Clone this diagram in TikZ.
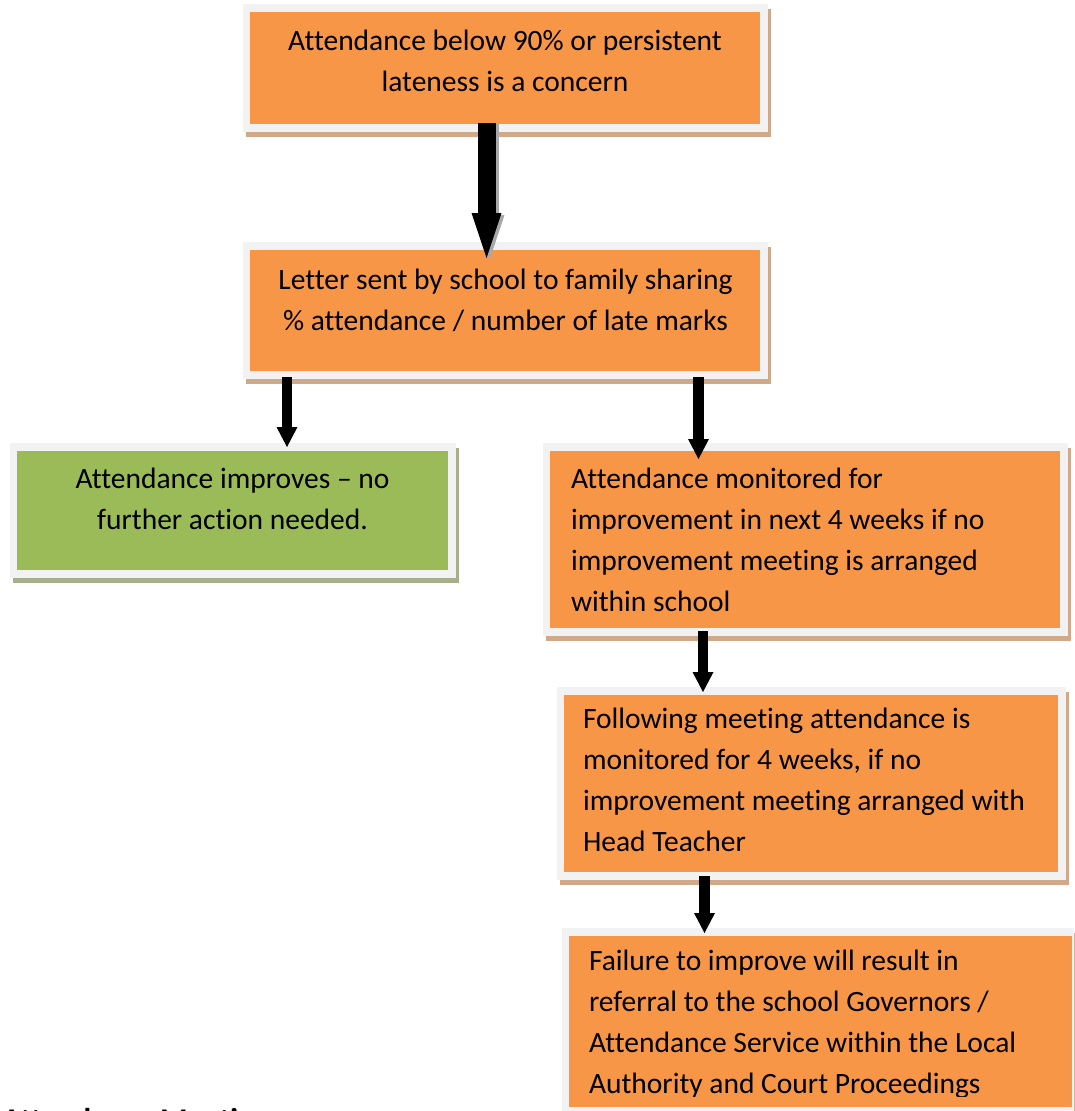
\documentclass[tikz,border=0pt]{standalone}
\usepackage{fontspec}
\setmainfont{Carlito}[Ligatures=NoCommon]
\usetikzlibrary{arrows.meta,backgrounds}
\definecolor{boxorange}{HTML}{F79646}
\definecolor{boxgreen}{HTML}{9BBB59}
\definecolor{framegray}{HTML}{F2F2F2}
\definecolor{shadowtan}{HTML}{CFA98A}
\definecolor{shadowolive}{HTML}{A6AE8C}
\definecolor{arrowshadow}{HTML}{A8A8A8}
\tikzset{
  boxframe/.style={rectangle, fill=framegray, draw=none, inner sep=0pt, outer sep=0pt, anchor=north west},
  boxtext/.style={inner sep=0pt, outer sep=0pt, font=\fontsize{29.5}{41}\selectfont},
  bigarrow/.style={line width=18pt, -{Triangle[length=45pt,width=30pt,line width=0pt]}},
  smallarrow/.style={line width=10.5pt, -{Triangle[length=20pt,width=21pt,line width=0pt]}},
}
\newcommand\innerfill[2]{\fill[#2] ([shift={(7,8)}]#1.north west) rectangle ([shift={(-8,-8)}]#1.south east);}
\newcommand\boxshadow[2]{\fill[#2] ([shift={(3,5)}]#1.north west) rectangle ([shift={(3,5)}]#1.south east);}
\begin{document}
\begin{tikzpicture}[x=1pt,y=-1pt]
\clip (0,0) rectangle (1074,1111);
% boxes
\node[boxframe, minimum width=525pt, minimum height=128pt] (A) at (243,4) {};
\node[boxframe, minimum width=525pt, minimum height=137pt] (B) at (243,242) {};
\node[boxframe, minimum width=446pt, minimum height=135pt] (C) at (10,443) {};
\node[boxframe, minimum width=525pt, minimum height=193pt] (D) at (543,443) {};
\node[boxframe, minimum width=509pt, minimum height=193pt] (E) at (557,687) {};
\node[boxframe, minimum width=518pt, minimum height=187pt] (F) at (562,928) {};
\innerfill{A}{boxorange}
\innerfill{B}{boxorange}
\innerfill{C}{boxgreen}
\innerfill{D}{boxorange}
\innerfill{E}{boxorange}
\innerfill{F}{boxorange}
\begin{scope}[on background layer]
  \fill[white] (0,0) rectangle (1074,1111);
  \boxshadow{A}{shadowtan}
  \boxshadow{B}{shadowtan}
  \boxshadow{C}{shadowolive}
  \boxshadow{D}{shadowtan}
  \boxshadow{E}{shadowtan}
  \boxshadow{F}{shadowtan}
\end{scope}
% texts
\node[boxtext, anchor=base] (tA) at (505,50) {\parbox[t]{600pt}{\centering Attendance below 90\% or persistent\\lateness is a concern}};
\node[boxtext, anchor=base] (tB) at (505.5,289) {\parbox[t]{600pt}{\centering Letter sent by school to family sharing\\\% attendance / number of late marks}};
\node[boxtext, anchor=base] (tC) at (232.5,488) {\parbox[t]{420pt}{\centering Attendance improves – no\\further action needed.}};
\node[boxtext, anchor=base west] (tD) at (571,488) {\parbox[t]{480pt}{\raggedright Attendance monitored for\\improvement in next 4 weeks if no\\improvement meeting is arranged\\within school}};
\node[boxtext, anchor=base west] (tE) at (583,728) {\parbox[t]{470pt}{\raggedright Following meeting attendance is\\monitored for 4 weeks, if no\\improvement meeting arranged with\\Head Teacher}};
\begin{scope}
  \clip (560,900) rectangle (1074,1096);
  \node[boxtext, anchor=base west] (tF) at (589,970) {\parbox[t]{480pt}{\raggedright Failure to improve will result in\\referral to the school Governors /\\Attendance Service within the Local\\Authority and Court Proceedings}};
\end{scope}
\node[anchor=base west, inner sep=0pt, font=\fontsize{31.6}{38}\selectfont\bfseries] (heading) at (2,1130) {Attendance Meeting};
% arrows
\draw[bigarrow, arrowshadow] ([shift={(-16,-9)}]A.south) -- ([shift={(-16,18)}]B.north);
\draw[bigarrow] ([shift={(-19,-9)}]A.south) -- ([shift={(-19,16)}]B.north);
\draw[smallarrow] ([shift={(-218.5,-2)}]B.south) -- ([shift={(54,4)}]C.north);
\draw[smallarrow] ([shift={(193,-2)}]B.south) -- ([shift={(-107,16)}]D.north);
\draw[smallarrow] ([shift={(-102.5,-5)}]D.south) -- ([shift={(-108.5,5)}]E.north);
\draw[smallarrow] ([shift={(-107,-4)}]E.south) -- ([shift={(-116.5,5)}]F.north);
\end{tikzpicture}
\end{document}
